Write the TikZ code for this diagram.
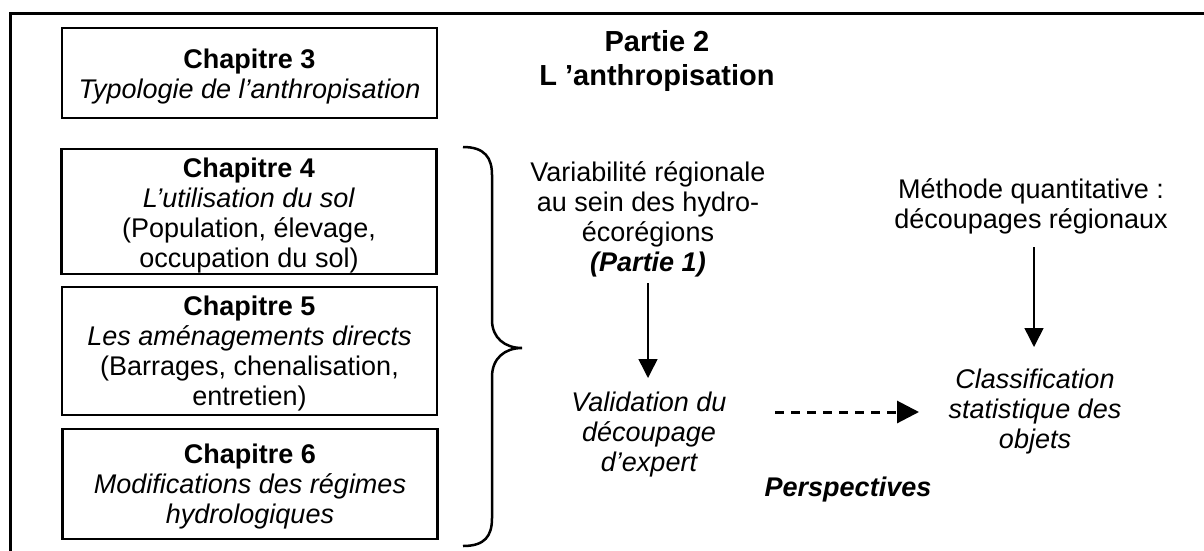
\documentclass[tikz,border=0pt]{standalone}
\usepackage{fontspec}
\setmainfont{Liberation Sans}
\usetikzlibrary{arrows.meta}
\begin{document}
\begin{tikzpicture}[x=1pt,y=-1pt,
  txt/.style={font=\fontsize{27}{30}\selectfont, align=center, inner sep=0pt},
  chapbox/.style={draw, line width=2.5pt, minimum width=375pt, inner sep=0pt},
  solidarrow/.style={line width=1.5pt, -{Triangle[width=19pt,length=19pt]}},
  dasharrow/.style={line width=3pt, dash pattern=on 9pt off 7pt, -{Triangle[width=22pt,length=22pt]}}
]
\useasboundingbox (0,0) rectangle (1204,550);
\begin{scope}
\clip (0,0) rectangle (1204,550);
\draw[line width=3.2pt] (10.5,13.5) rectangle (1230,580);
\end{scope}

% chapter boxes
\node[chapbox, minimum height=90pt] (c3) at (249.5,73) {};
\node[chapbox, minimum height=125pt] (c4) at (249,211.5) {};
\node[chapbox, minimum height=128pt] (c5) at (249.5,351) {};
\node[chapbox, minimum height=110pt] (c6) at (250,484) {};
\node[txt] (c3t) at (249.5,77) {\textbf{Chapitre 3}\\\textit{Typologie de l’anthropisation}};
\node[txt] (c4t) at (249,216) {\textbf{Chapitre 4}\\\textit{L’utilisation du sol}\\(Population, élevage,\\occupation du sol)};
\node[txt] (c5t) at (249.5,354) {\textbf{Chapitre 5}\\\textit{Les aménagements directs}\\(Barrages, chenalisation,\\entretien)};
\node[txt] (c6t) at (250,487) {\textbf{Chapitre 6}\\\textit{Modifications des régimes}\\\textit{hydrologiques}};

% brace
\coordinate (bt) at (463,147);
\coordinate (bb) at (463,546);
\draw[line width=2.5pt] (bt) .. controls (485,147) and (492,158) .. (492,175) -- (492,320)
  .. controls (492,338) and (505,348) .. (522,348)
  .. controls (505,348) and (492,358) .. (492,377) -- (492,518)
  .. controls (492,536) and (485,546) .. (bb);

% title
\node[txt, font=\fontsize{29}{34}\selectfont\bfseries] (title) at (657,61) {Partie 2\\L ’anthropisation};

% texts
\node[txt] (var) at (648,219) {Variabilité régionale\\au sein des hydro-\\écorégions\\\textbf{\textit{(Partie 1)}}};
\node[txt, font=\fontsize{27}{30}\selectfont\itshape] (val) at (649,435) {Validation du\\découpage\\d’expert};
\node[txt] (meth) at (1031,206) {Méthode quantitative :\\découpages régionaux};
\node[txt, font=\fontsize{27}{30}\selectfont\itshape] (cls) at (1035,412) {Classification\\statistique des\\objets};
\node[txt, font=\fontsize{27}{30}\selectfont\bfseries\itshape] (persp) at (848,490) {Perspectives};

% arrows
\coordinate (a1s) at (648,283);
\coordinate (a1e) at (648,378);
\draw[solidarrow] (a1s) -- (a1e);
\coordinate (a2s) at (1034,247);
\coordinate (a2e) at (1034,347);
\draw[solidarrow] (a2s) -- (a2e);
\coordinate (d1s) at (775,412);
\coordinate (d1e) at (919,412);
\draw[dasharrow] (d1s) -- (d1e);
\end{tikzpicture}
\end{document}
